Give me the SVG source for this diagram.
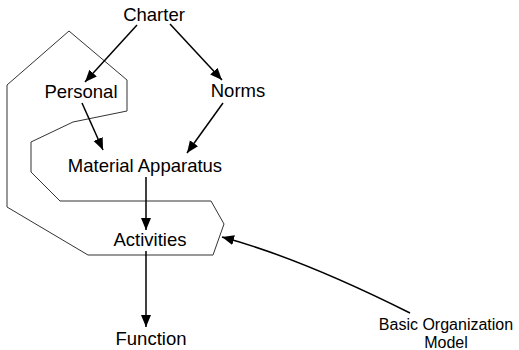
<svg xmlns="http://www.w3.org/2000/svg" width="519" height="350" viewBox="0 0 519 350">
  <style>
    .lbl { font-family: "Liberation Sans", Arial, sans-serif; font-size: 18.5px; fill: #000; text-anchor: middle; }
    .small { font-size: 16px; }
    .edge { fill: none; stroke: #000; stroke-width: 1.5; marker-end: url(#arrow); }
    .outline { fill: none; stroke: #333; stroke-width: 1; }
  </style>
  <defs>
    <marker id="arrow" markerUnits="userSpaceOnUse" markerWidth="13" markerHeight="11" refX="12" refY="5" orient="auto">
      <path d="M0,0 L12,5 L0,10 z" fill="#000"/>
    </marker>
  </defs>

  <rect width="519" height="350" fill="#fff"/>

  <!-- boundary enclosing the institution elements -->
  <polygon class="outline" points="69,31 127,80 127,111 73,122 31,142 31,172 60,201 211,201 224,224 213,255 88,255 7,207 7,85"/>

  <g id="connectors">
    <line class="edge" x1="137" y1="25" x2="85" y2="82"/>
    <line class="edge" x1="170" y1="24" x2="222" y2="80"/>
    <line class="edge" x1="82" y1="103" x2="103" y2="150"/>
    <line class="edge" x1="223" y1="103" x2="187" y2="153"/>
    <line class="edge" x1="146" y1="177" x2="146" y2="230"/>
    <line class="edge" x1="146" y1="251" x2="146" y2="327"/>
    <path class="edge" d="M410,313 Q300,258 222,237"/>
  </g>

  <g id="charter"><text class="lbl" x="154" y="21">Charter</text></g>
  <g id="personal"><text class="lbl" x="81" y="98">Personal</text></g>
  <g id="norms"><text class="lbl" x="238" y="97">Norms</text></g>
  <g id="material-apparatus"><text class="lbl" x="145" y="172">Material Apparatus</text></g>
  <g id="activities"><text class="lbl" x="150" y="246">Activities</text></g>
  <g id="function"><text class="lbl" x="151" y="345">Function</text></g>
  <g id="basic-organization-model">
    <text class="lbl small" x="446" y="330">Basic Organization</text>
    <text class="lbl small" x="446" y="348">Model</text>
  </g>
</svg>
